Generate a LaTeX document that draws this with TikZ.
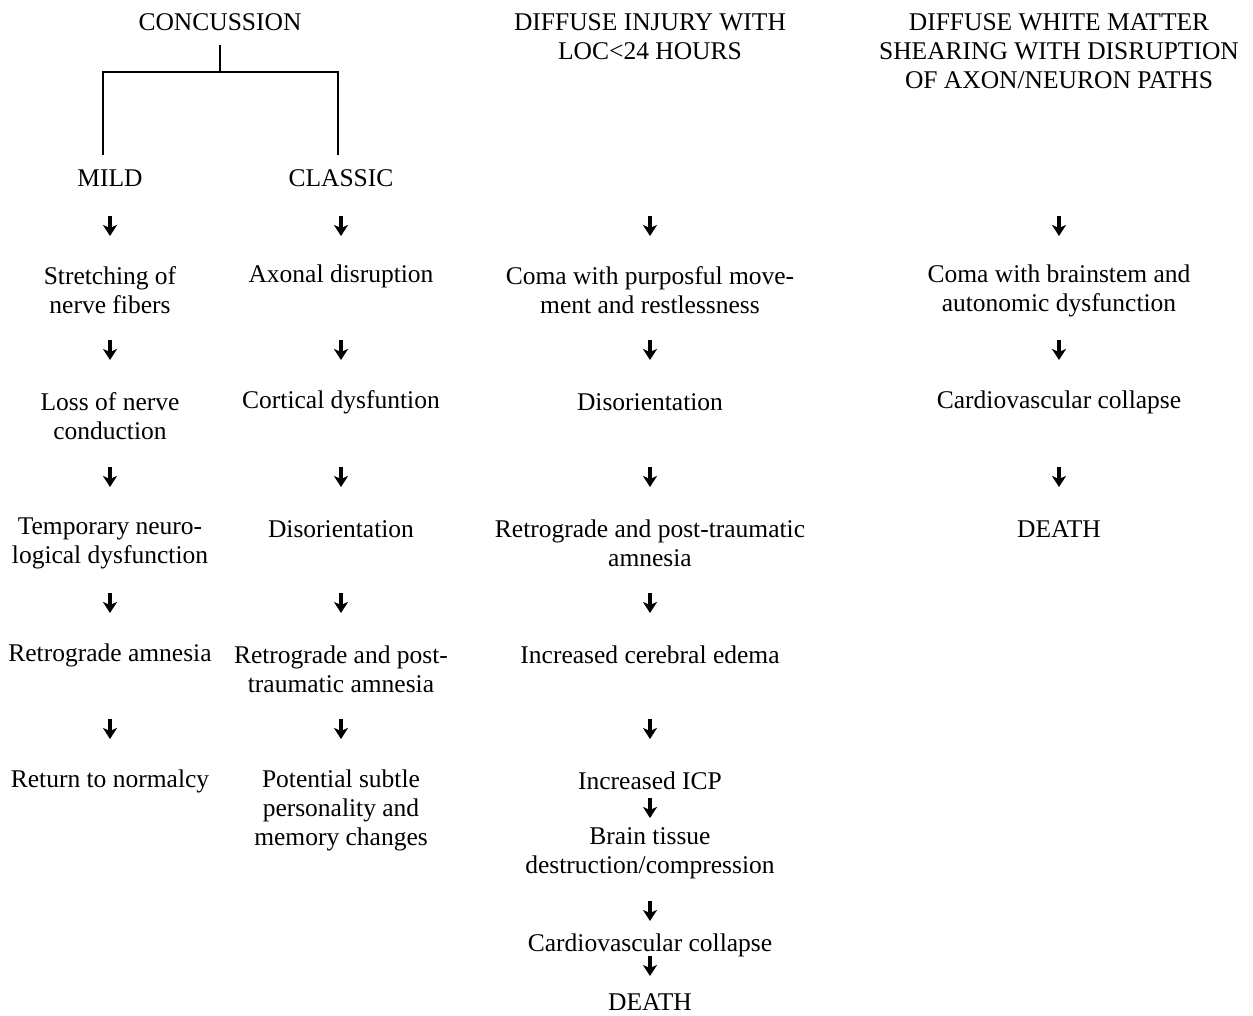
\documentclass[tikz,border=0pt]{standalone}
\usepackage{fontspec}
\setmainfont{Liberation Serif}
\usetikzlibrary{arrows.meta}
\begin{document}
\begin{tikzpicture}[x=1pt,y=-1pt,
  lbl/.style={align=center,inner sep=0pt,font=\fontsize{25.5}{29}\selectfont},
  down/.style={line width=3.4pt,-{Stealth[width=14pt,length=11pt,inset=3pt]}},
  tree/.style={line width=2.2pt}]
\useasboundingbox (0,0) rectangle (1253,1016);

% ---- column headings
\node[lbl] (conc) at (220,22) {CONCUSSION};
\node[lbl] (diff) at (650,36.5) {DIFFUSE INJURY WITH\\LOC<24 HOURS};
\node[lbl] (dwm) at (1059,51) {DIFFUSE WHITE MATTER\\SHEARING WITH DISRUPTION\\OF AXON/NEURON PATHS};

% ---- concussion split
\node[lbl] (mild) at (110,178) {MILD};
\node[lbl] (classic) at (341,178) {CLASSIC};
\coordinate (top) at (220,45);
\coordinate (bar) at (220,72);
\coordinate (bl) at (103,72);
\coordinate (br) at (338,72);
\coordinate (el) at (103,155);
\coordinate (er) at (338,155);
\draw[tree] (top) -- (bar);
\draw[tree] (el) -- (bl) -- (br) -- (er);

% ---- mild concussion
\node[lbl] (m1) at (110,290.5) {Stretching of\\nerve fibers};
\node[lbl] (m2) at (110,416.5) {Loss of nerve\\conduction};
\node[lbl] (m3) at (110,543.5) {Temporary neuro-\\logical dysfunction};
\node[lbl] (m4) at (110,655) {Retrograde amnesia};
\node[lbl] (m5) at (110,781) {Return to normalcy};

% ---- classic concussion
\node[lbl] (c1) at (341,276) {Axonal disruption};
\node[lbl] (c2) at (341,402) {Cortical dysfuntion};
\node[lbl] (c3) at (341,529) {Disorientation};
\node[lbl] (c4) at (341,669.5) {Retrograde and post-\\traumatic amnesia};
\node[lbl] (c5) at (341,810) {Potential subtle\\personality and\\memory changes};

% ---- diffuse injury
\node[lbl] (d1) at (650,290.5) {Coma with purposful move-\\ment and restlessness};
\node[lbl] (d2) at (650,402) {Disorientation};
\node[lbl] (d3) at (650,543.5) {Retrograde and post-traumatic\\amnesia};
\node[lbl] (d4) at (650,655) {Increased cerebral edema};
\node[lbl] (d5) at (650,781) {Increased ICP};
\node[lbl] (d6) at (650,853.5) {Brain tissue\\destruction/compression};
\node[lbl] (d7) at (650,945) {Cardiovascular collapse};
\node[lbl] (d8) at (650,1002) {DEATH};

% ---- diffuse white matter shearing
\node[lbl] (w1) at (1059,290.5) {Coma with brainstem and\\autonomic dysfunction};
\node[lbl] (w2) at (1059,402) {Cardiovascular collapse};
\node[lbl] (w3) at (1059,529) {DEATH};

% ---- downward arrows
\foreach \x/\y in {110/226,110/350,110/477,110/603,110/729,
                   341/226,341/350,341/477,341/603,341/729,
                   650/226,650/350,650/477,650/603,650/729,650/808,650/911,650/966,
                   1059/226,1059/350,1059/477}
  \draw[down] (\x,\y-10) -- (\x,\y+10);
\end{tikzpicture}
\end{document}
